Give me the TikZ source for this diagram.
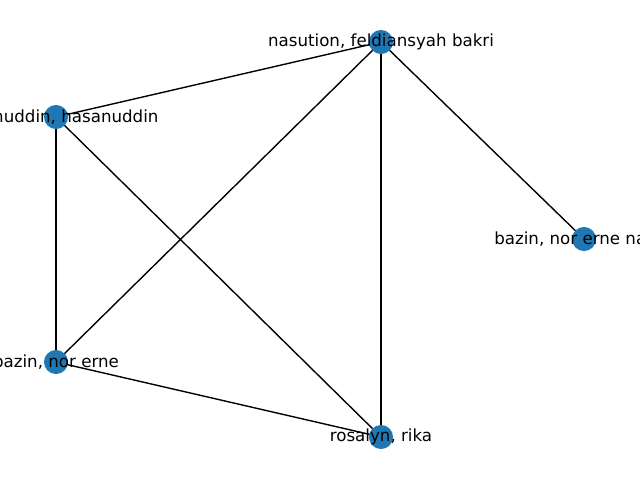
\documentclass[tikz,border=0pt]{standalone}
\usepackage{fontspec}
\setmainfont{DejaVu Sans}
\definecolor{nodeblue}{HTML}{1F77B4}
\tikzset{
  vert/.style={circle, fill=nodeblue, draw=none, minimum size=17.3pt, inner sep=0pt},
  lbl/.style={font=\fontsize{12pt}{14pt}\selectfont, inner sep=0pt, text=black},
  edge/.style={draw=black, line width=1pt}
}
\begin{document}
\begin{tikzpicture}[x=0.72pt, y=-0.72pt]
\useasboundingbox (0,0) rectangle (640,480);
\clip (0,0) rectangle (640,480);
\coordinate (A) at (381,42);
\coordinate (B) at (56,117);
\coordinate (C) at (584,239);
\coordinate (D) at (56,362);
\coordinate (E) at (381,437);
\draw[edge] (A) -- (B);
\draw[edge] (A) -- (D);
\draw[edge] (A) -- (E);
\draw[edge] (A) -- (C);
\draw[edge] (B) -- (D);
\draw[edge] (B) -- (E);
\draw[edge] (D) -- (E);
\node[vert] (nA) at (A) {};
\node[vert] (nB) at (B) {};
\node[vert] (nC) at (C) {};
\node[vert] (nD) at (D) {};
\node[vert] (nE) at (E) {};
\node[lbl] (tA) at (A) {nasution, feldiansyah bakri};
\node[lbl] (tB) at (B) {hasanuddin, hasanuddin};
\node[lbl, anchor=west] (tC) at (494,239) {bazin, nor erne na};
\node[lbl] (tD) at (D) {bazin, nor erne};
\node[lbl] (tE) at (E) {rosalyn, rika};
\end{tikzpicture}
\end{document}
